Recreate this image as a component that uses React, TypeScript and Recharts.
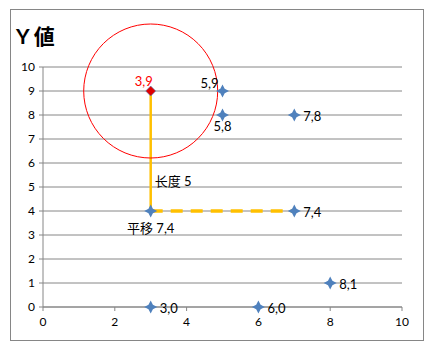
import React from 'react';
import {
  ScatterChart,
  Scatter,
  XAxis,
  YAxis,
  CartesianGrid,
  ReferenceLine,
  ReferenceDot,
  LabelList,
} from 'recharts';

// puntos agrupados por posición de la etiqueta
const rightPoints = [
  { x: 7, y: 8, label: '7,8' },
  { x: 7, y: 4, label: '7,4' },
  { x: 8, y: 1, label: '8,1' },
  { x: 3, y: 0, label: '3,0' },
  { x: 6, y: 0, label: '6,0' },
];
const belowPoints = [{ x: 5, y: 8, label: '5,8' }];
const leftTopPoints = [{ x: 5, y: 9, label: '5,9' }];
const movedPoints = [{ x: 3, y: 4, label: '平移 7,4' }];
const originPoints = [{ x: 3, y: 9, label: '3,9' }];

const xTicks = [0, 2, 4, 6, 8, 10];
const yTicks = [0, 1, 2, 3, 4, 5, 6, 7, 8, 9, 10];

const lengthLine = [{ x: 3, y: 9 }, { x: 3, y: 4 }];
const moveLine = [{ x: 3, y: 4 }, { x: 7, y: 4 }];
const lengthText = { x: 3, y: 5.25, label: '长度 5' };

const BLUE = '#4F81BD';
const GRAY = '#868686';
const YELLOW = '#FFC000';
const FONT = "Lato, 'Noto Sans CJK SC', sans-serif";

const Star = (props: any) => {
  const { cx, cy, fill } = props;
  const o = 6.5;
  const i = 2.2;
  const d = `M${cx},${cy - o} L${cx + i},${cy - i} L${cx + o},${cy} L${cx + i},${cy + i} L${cx},${cy + o} L${cx - i},${cy + i} L${cx - o},${cy} L${cx - i},${cy - i} Z`;
  return <path d={d} fill={fill} />;
};

const RedDiamond = (props: any) => {
  const { cx, cy } = props;
  const o = 5;
  return (
    <path
      d={`M${cx},${cy - o} L${cx + o},${cy} L${cx},${cy + o} L${cx - o},${cy} Z`}
      fill="#E00000"
      stroke={BLUE}
      strokeWidth={0.6}
    />
  );
};

const makeLabel = (dx: number, dy: number, anchor: string, color = '#000') => (props: any) => {
  const { x, y, width, height, value } = props;
  const cx = x + (width || 0) / 2;
  const cy = y + (height || 0) / 2;
  return (
    <text
      x={cx + dx}
      y={cy + dy}
      textAnchor={anchor}
      dominantBaseline="central"
      fontSize={13}
      fontFamily={FONT}
      fill={color}
    >
      {value}
    </text>
  );
};

const LengthLabel = (props: any) => {
  const { viewBox } = props;
  return (
    <text
      x={viewBox.x + 4}
      y={viewBox.y + (viewBox.height || 0) / 2}
      dominantBaseline="central"
      fontSize={13}
      fontFamily={FONT}
      fill="#000"
    >
      {lengthText.label}
    </text>
  );
};

export default function App() {
  return (
    <div style={{ position: 'absolute', left: 0, top: 0, width: 440, height: 354, background: '#fff' }}>
      <div
        style={{
          position: 'absolute',
          left: 10,
          top: 9,
          width: 412,
          height: 330,
          border: `1px solid ${GRAY}`,
        }}
      />
      <div
        style={{
          position: 'absolute',
          left: 16,
          top: 22,
          fontFamily: FONT,
          fontWeight: 'bold',
          fontSize: 21,
          lineHeight: '28px',
        }}
      >
        Y 値
      </div>
      <div style={{ position: 'absolute', left: 0, top: 0 }}>
        <ScatterChart width={440} height={354} margin={{ top: 67, right: 38, left: 23, bottom: 27 }}>
          <CartesianGrid vertical={false} stroke={GRAY} strokeWidth={1} />
          <XAxis
            type="number"
            dataKey="x"
            domain={[0, 10]}
            ticks={xTicks}
            height={20}
            tickSize={4}
            tickMargin={6}
            stroke={GRAY}
            tick={{ fontSize: 12, fill: '#000', fontFamily: FONT }}
          />
          <YAxis
            type="number"
            dataKey="y"
            domain={[0, 10]}
            ticks={yTicks}
            width={20}
            tickSize={4}
            tickMargin={4}
            stroke={GRAY}
            tick={{ fontSize: 12, fill: '#000', fontFamily: FONT }}
          />
          <ReferenceDot x={3} y={9} r={67} fill="none" stroke="#FF0000" strokeWidth={1} />
          <ReferenceLine segment={lengthLine} stroke={YELLOW} strokeWidth={2.5} />
          <ReferenceLine segment={moveLine} stroke={YELLOW} strokeWidth={3.5} strokeDasharray="12 8" />
          <ReferenceDot x={lengthText.x} y={lengthText.y} r={0} fill="none" stroke="none" label={<LengthLabel />} />
          <Scatter data={rightPoints} fill={BLUE} shape={Star} isAnimationActive={false}>
            <LabelList dataKey="label" content={makeLabel(9, 1, 'start')} />
          </Scatter>
          <Scatter data={belowPoints} fill={BLUE} shape={Star} isAnimationActive={false}>
            <LabelList dataKey="label" content={makeLabel(0, 11, 'middle')} />
          </Scatter>
          <Scatter data={leftTopPoints} fill={BLUE} shape={Star} isAnimationActive={false}>
            <LabelList dataKey="label" content={makeLabel(-4, -8, 'end')} />
          </Scatter>
          <Scatter data={movedPoints} fill={BLUE} shape={Star} isAnimationActive={false}>
            <LabelList dataKey="label" content={makeLabel(0, 17, 'middle')} />
          </Scatter>
          <Scatter data={originPoints} shape={RedDiamond} isAnimationActive={false}>
            <LabelList dataKey="label" content={makeLabel(-7, -10, 'middle', '#FF0000')} />
          </Scatter>
        </ScatterChart>
      </div>
    </div>
  );
}
